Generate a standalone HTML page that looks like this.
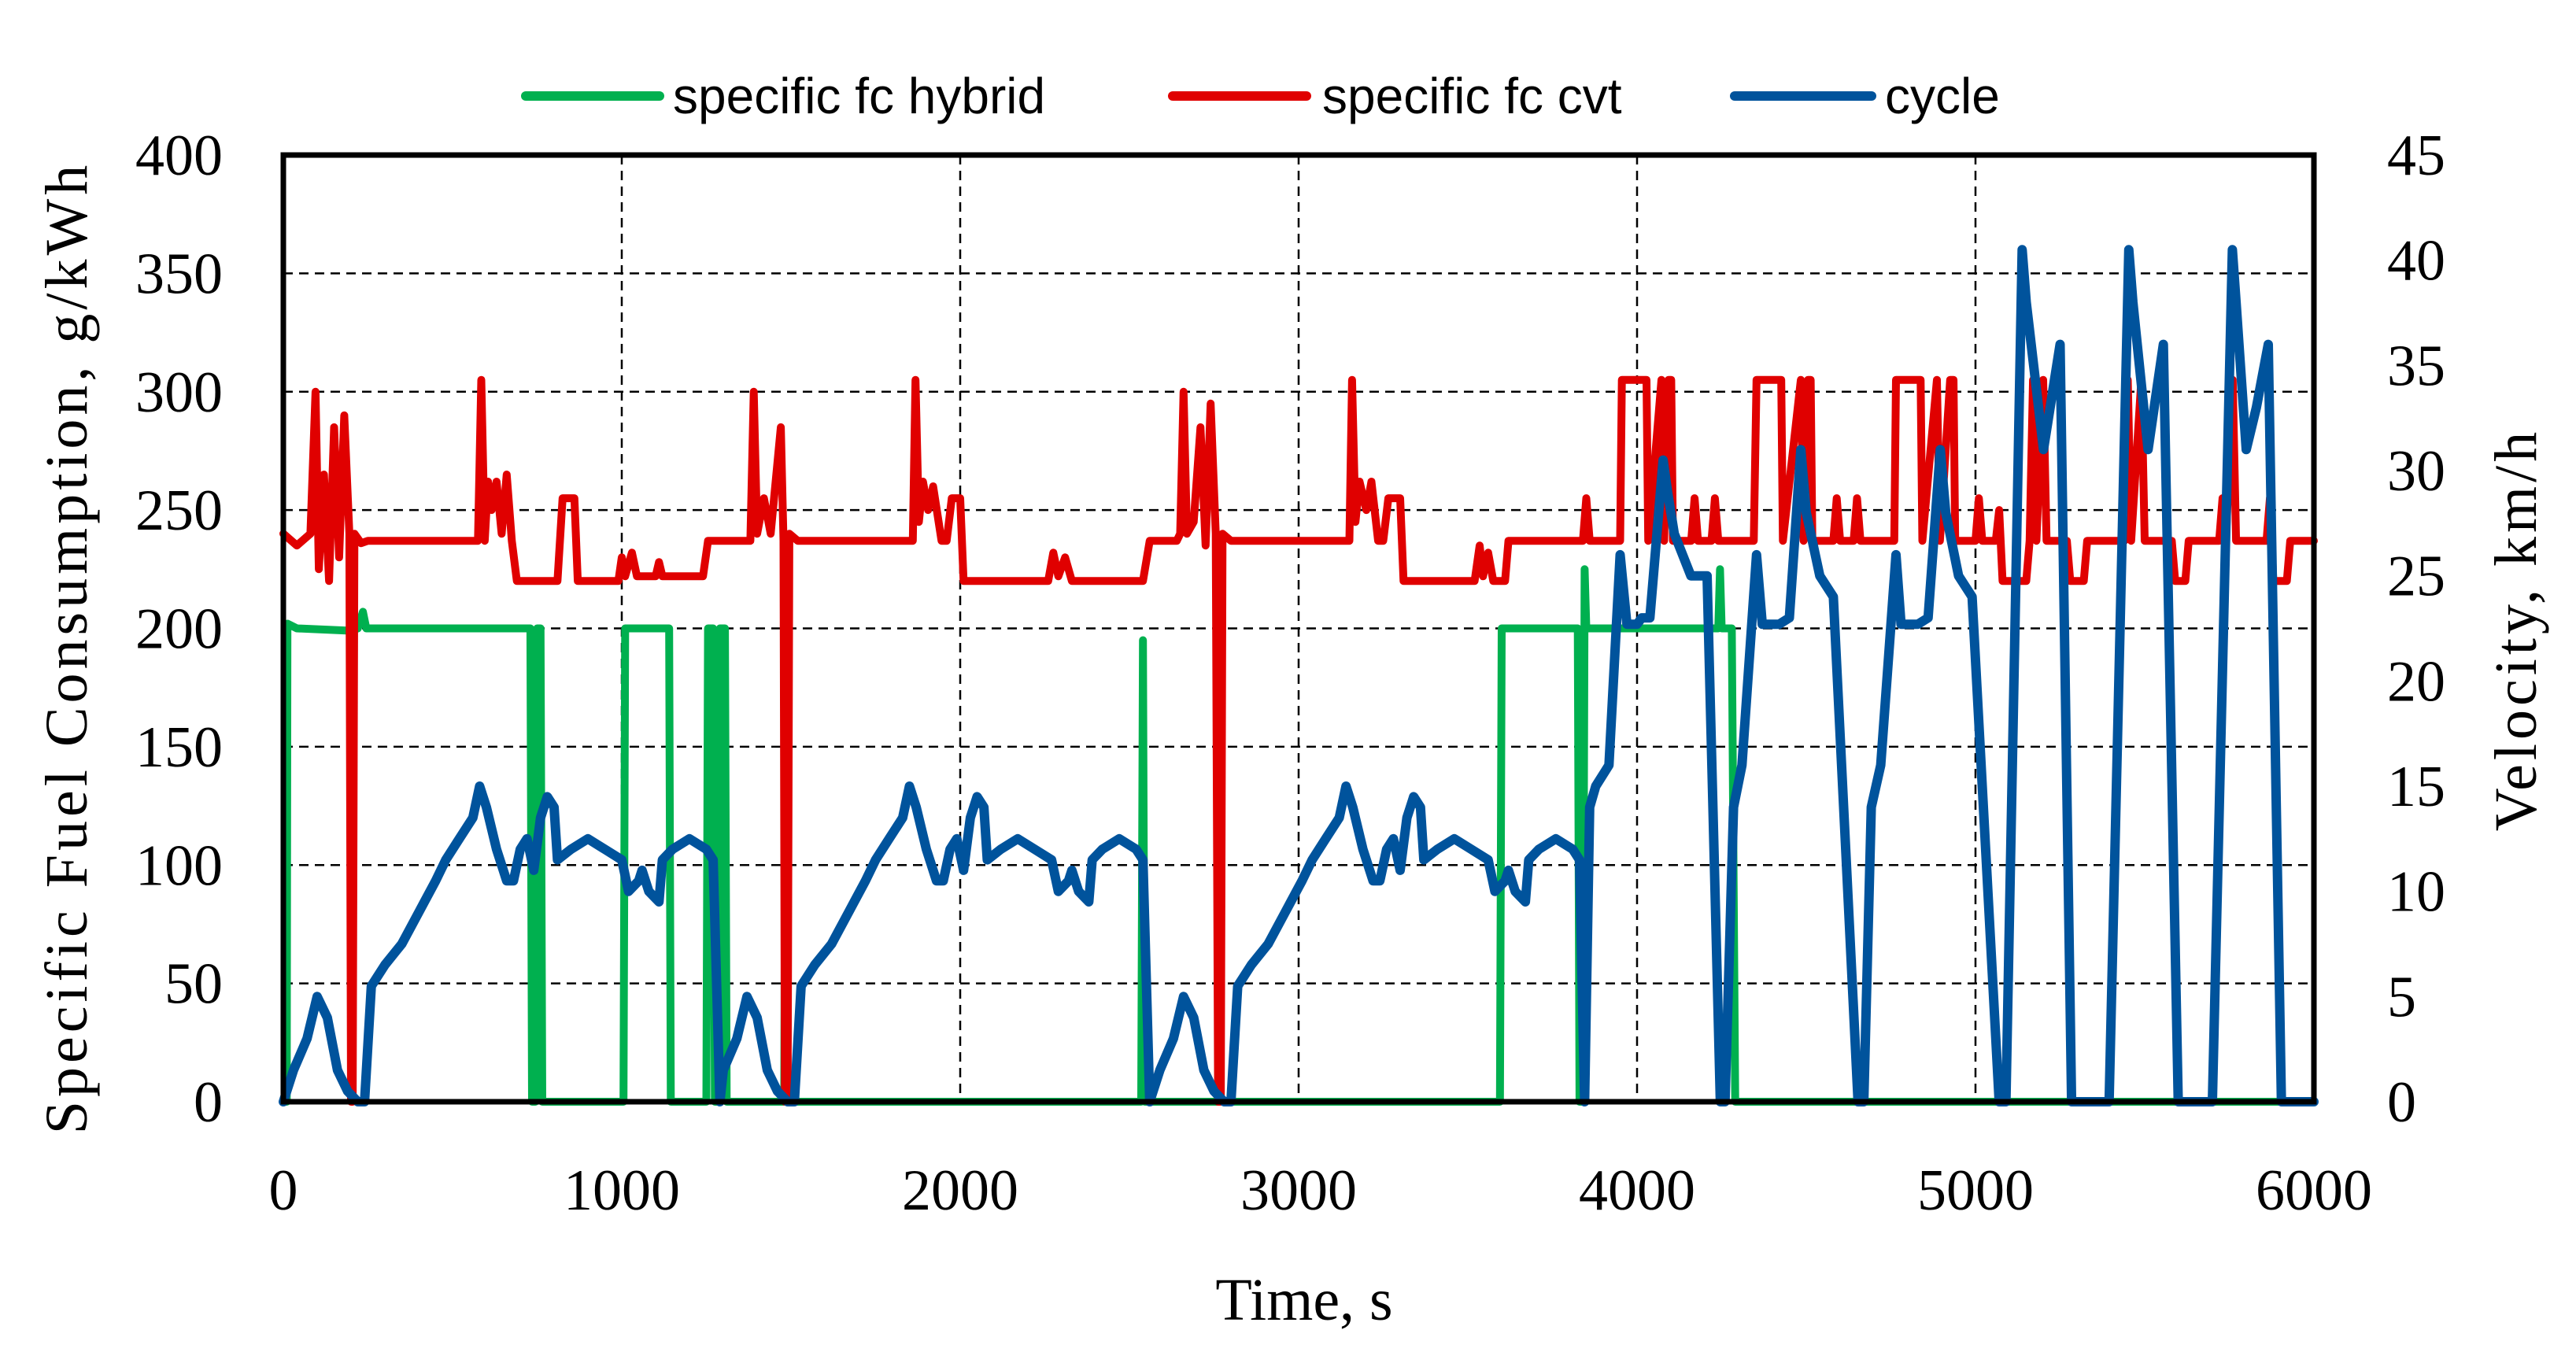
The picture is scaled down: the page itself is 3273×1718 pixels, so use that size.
<!DOCTYPE html>
<html><head><meta charset="utf-8"><style>
html,body{margin:0;padding:0;background:#fff;}
svg{display:block;}
</style></head><body>
<svg id="chart" width="3273" height="1718" viewBox="0 0 3273 1718" xmlns="http://www.w3.org/2000/svg">
<g id="grid"></g>
<g id="series"></g>
<rect x="360" y="197" width="2580" height="1203" fill="none" stroke="#000" stroke-width="7"/>
<g id="ticks" font-family="Liberation Serif, serif" font-size="74" fill="#000"></g>
<text x="1657" y="1677" font-family="Liberation Serif, serif" font-size="76" text-anchor="middle">Time, s</text>
<text transform="translate(110,823) rotate(-90)" font-family="Liberation Serif, serif" font-size="76" letter-spacing="5" text-anchor="middle">Specific Fuel Consumption, g/kWh</text>
<text transform="translate(3222,800) rotate(-90)" font-family="Liberation Serif, serif" font-size="76" letter-spacing="5" text-anchor="middle">Velocity, km/h</text>
<g font-family="Liberation Sans, sans-serif" font-size="64">
<g><line x1="668" y1="122" x2="838" y2="122" stroke="#00b04f" stroke-width="12" stroke-linecap="round"/><text x="855" y="144">specific fc hybrid</text></g>
<g><line x1="1490" y1="122" x2="1660" y2="122" stroke="#e00000" stroke-width="12" stroke-linecap="round"/><text x="1680" y="144">specific fc cvt</text></g>
<g><line x1="2204" y1="122" x2="2378" y2="122" stroke="#00539c" stroke-width="12" stroke-linecap="round"/><text x="2395" y="144">cycle</text></g>
</g>
</svg>
<script>
const xTicks=[0,1000,2000,3000,4000,5000,6000];
const yLeftTicks=[0,50,100,150,200,250,300,350,400];
const yRightTicks=[0,5,10,15,20,25,30,35,40,45];
const hybridT=[0,10,12,40,200,220,235,245,730,735,745,750,760,765,1005,1010,1140,1145,1250,1255,1270,1275,1285,1290,1305,1310,1480,1485,1490,2535,2540,2545,3595,3600,3825,3830,3840,3845,3850,4240,4245,4250,4280,4290,6000];
const hybridV=[0,0,202,200,199,200,207,200,200,0,0,200,200,0,0,200,200,0,0,200,200,0,0,200,200,0,0,200,0,0,195,0,0,200,200,0,0,225,200,200,225,200,200,0,0];
const cvtT=[
0,40,80,95,105,120,135,150,165,180,
195,200,205,210,230,250,575,585,595,605,
615,630,645,660,675,690,810,825,860,870,
990,1000,1010,1030,1045,1100,1110,1120,1240,1255,
1380,1390,1400,1420,1440,1460,1470,1478,1482,1490,
1495,1520,1860,1868,1878,1890,1905,1920,1945,1960,
1975,2000,2010,2260,2275,2290,2310,2330,2540,2560,
2640,2650,2660,2670,2690,2710,2725,2740,2755,2762,
2770,2775,2800,3150,3158,3168,3180,3200,3215,3235,
3250,3265,3300,3310,3520,3535,3545,3560,3575,3610,
3620,3840,3850,3860,3950,3955,4028,4033,4072,4080,
4093,4101,4106,4160,4170,4180,4220,4230,4240,4345,
4353,4426,4431,4484,4492,4505,4513,4518,4580,4590,
4600,4640,4650,4660,4760,4765,4838,4843,4886,4895,
4925,4935,4940,5000,5010,5020,5060,5070,5080,5150,
5160,5170,5180,5200,5210,5270,5280,5320,5330,5440,
5450,5460,5490,5500,5580,5590,5620,5630,5720,5730,
5740,5760,5770,5860,5870,5880,5920,5930,6000];
const cvtV=[
240,235,240,300,225,265,220,285,230,290,
240,0,0,240,236,237,237,305,237,262,
250,262,240,265,237,220,220,255,255,220,
220,230,222,232,222,222,228,222,222,237,
237,300,240,255,240,270,285,237,0,0,
240,237,237,305,245,262,250,260,237,237,
255,255,220,220,232,222,230,220,220,237,
237,240,300,240,245,285,235,295,240,0,
0,240,237,237,305,245,262,250,262,237,
237,255,255,220,220,235,222,232,220,220,
237,237,255,237,237,305,305,237,305,237,
305,305,237,237,255,237,237,255,237,237,
305,305,237,305,237,305,305,237,237,255,
237,237,255,237,237,305,305,237,305,237,
305,305,237,237,255,237,237,250,220,220,
237,305,237,305,237,237,220,220,237,237,
305,237,305,237,237,220,220,237,237,255,
237,305,237,237,255,220,220,237,237];
const cycleT=[
0,30,70,100,130,160,190,220,240,260,
300,350,400,450,480,520,560,580,600,630,
660,680,700,720,740,760,780,800,810,850,
900,950,1000,1020,1050,1060,1080,1110,1120,1150,
1200,1250,1270,1290,1300,1340,1370,1400,1430,1460,
1490,1510,1530,1570,1620,1670,1720,1750,1790,1830,
1850,1870,1900,1930,1950,1970,1990,2010,2030,2050,
2070,2080,2120,2170,2220,2270,2290,2320,2330,2350,
2380,2390,2420,2470,2520,2540,2560,2590,2630,2660,
2690,2720,2750,2780,2800,2820,2860,2910,2960,3010,
3040,3080,3120,3140,3160,3190,3220,3240,3260,3280,
3300,3320,3340,3360,3370,3410,3460,3510,3560,3580,
3610,3620,3640,3670,3680,3710,3760,3810,3830,3845,
3860,3878,3917,3950,3970,4000,4014,4038,4077,4090,
4110,4159,4207,4246,4260,4285,4310,4353,4370,4420,
4450,4484,4500,4540,4580,4653,4670,4692,4720,4765,
4780,4830,4860,4896,4912,4950,4990,5070,5090,5138,
5150,5201,5250,5284,5395,5453,5465,5510,5555,5599,
5700,5759,5770,5800,5830,5865,5904,6000];
const cycleV=[
0,1.5,3,5,4,1.5,0.5,0,0,5.5,
6.5,7.5,9,10.5,11.5,12.5,13.5,15,14,12,
10.5,10.5,12,12.5,11,13.5,14.5,14,11.5,12,
12.5,12,11.5,10,10.5,11,10,9.5,11.5,12,
12.5,12,11.5,0,1.5,3,5,4,1.5,0.5,
0,0,5.5,6.5,7.5,9,10.5,11.5,12.5,13.5,
15,14,12,10.5,10.5,12,12.5,11,13.5,14.5,
14,11.5,12,12.5,12,11.5,10,10.5,11,10,
9.5,11.5,12,12.5,12,11.5,0,1.5,3,5,
4,1.5,0.5,0,0,5.5,6.5,7.5,9,10.5,
11.5,12.5,13.5,15,14,12,10.5,10.5,12,12.5,
11,13.5,14.5,14,11.5,12,12.5,12,11.5,10,
10.5,11,10,9.5,11.5,12,12.5,12,11.5,0,
14,15,16,26,22.7,22.7,23,23,30.5,29,
27,25,25,0,0,14,16,26,22.7,22.7,
23,31,28,25,24,0,0,14,16,26,
22.7,22.7,23,31,28,25,24,0,0,40.5,
38,31,36,0,0,40.5,38,31,36,0,
0,40.5,38,31,33,36,0,0];

const X0=360,X1=2940,Y0=1400,Y1=197;
const xs=t=>X0+(t/6000)*(X1-X0);
const yl=v=>Y0-(v/400)*(Y0-Y1);
const yr=v=>Y0-(v/45)*(Y0-Y1);
const NS='http://www.w3.org/2000/svg';
const grid=document.getElementById('grid'),ticks=document.getElementById('ticks'),series=document.getElementById('series');
function mk(tag,attrs,parent){const e=document.createElementNS(NS,tag);for(const k in attrs)e.setAttribute(k,attrs[k]);parent.appendChild(e);return e;}
xTicks.forEach(t=>{
  if(t>0&&t<6000){const g=mk('line',{x1:xs(t),x2:xs(t),y1:Y1,y2:Y0,stroke:'#000','stroke-width':2.5,'stroke-dasharray':'12 8'},grid);
  
  }
  const tx=mk('text',{x:xs(t),y:1537,'text-anchor':'middle'},ticks);tx.textContent=t;
  
  
});
yLeftTicks.forEach(v=>{
  if(v>0&&v<400){const g=mk('line',{x1:X0,x2:X1,y1:yl(v),y2:yl(v),stroke:'#000','stroke-width':2.5,'stroke-dasharray':'12 8'},grid);
  
  }
  const tx=mk('text',{x:283,y:yl(v)+25,'text-anchor':'end'},ticks);tx.textContent=v;
  
  
});
yRightTicks.forEach(v=>{
  const tx=mk('text',{x:3033,y:yr(v)+25,'text-anchor':'start'},ticks);tx.textContent=v;
  
  
});
function path(T,V,fy,color,w,name){
  let d='';const n=Math.min(T.length,V.length);
  for(let i=0;i<n;i++){d+=(i?'L':'M')+xs(T[i]).toFixed(1)+','+fy(V[i]).toFixed(1);}
  const p=mk('path',{d:d,fill:'none',stroke:color,'stroke-width':w,'stroke-linejoin':'round','stroke-linecap':'round'},series);
  
  
}
path(hybridT,hybridV,yl,'#00b04f',10,'hybrid-line');
path(cvtT,cvtV,yl,'#e00000',10,'cvt-line');
path(cycleT,cycleV,yr,'#00539c',12,'cycle-line');
</script>
</body></html>
